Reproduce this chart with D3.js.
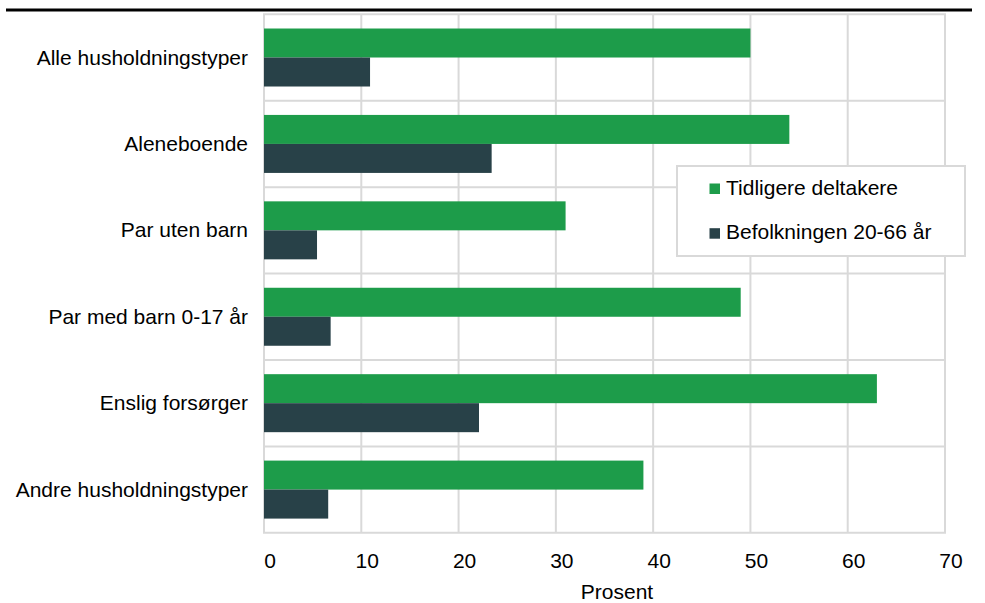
<!DOCTYPE html>
<html>
<head>
<meta charset="utf-8">
<script src="https://cdn.jsdelivr.net/npm/d3@7"></script>
<style>
  html, body { margin: 0; padding: 0; background: #fff; }
  svg { display: block; font-family: "Liberation Sans", Arial, Helvetica, sans-serif; }
</style>
</head>
<body>
<svg id="chart" width="985" height="603"></svg>
<script>
const categories = ["Alle husholdningstyper", "Aleneboende", "Par uten barn", "Par med barn 0-17 år", "Enslig forsørger", "Andre husholdningstyper"];
const seriesNames = ["Tidligere deltakere", "Befolkningen 20-66 år"];
const tidligereDeltakere = [50.0, 54.0, 31.0, 49.0, 63.0, 39.0];
const befolkningen = [10.9, 23.4, 5.45, 6.85, 22.1, 6.6];
const xTicks = [0, 10, 20, 30, 40, 50, 60, 70];
const xTitle = "Prosent";
const colors = ["#1d9c4a", "#284148"];

const values = [tidligereDeltakere, befolkningen];
const svg = d3.select("#chart");
const m = { left: 264, right: 945, top: 14.3, bottom: 532.8 };
const grid = "#d9d9d9";

const x = d3.scaleLinear().domain([0, 70]).range([m.left, m.right]);
const y = d3.scaleBand().domain(categories).range([m.top, m.bottom]).paddingInner(0).paddingOuter(0);
const ys = d3.scaleBand().domain(seriesNames).range([0, y.bandwidth()]).paddingInner(0).paddingOuter(0.49);

// title rule
svg.append("line").attr("x1", 6).attr("x2", 972).attr("y1", 10).attr("y2", 10)
  .attr("stroke", "#000").attr("stroke-width", 3);

// vertical gridlines
svg.append("g").selectAll("line").data(xTicks).join("line")
  .attr("x1", d => x(d)).attr("x2", d => x(d))
  .attr("y1", m.top).attr("y2", m.bottom)
  .attr("stroke", grid).attr("stroke-width", 2);

// horizontal gridlines at band boundaries
const bounds = categories.map(c => y(c)).concat([y(categories[categories.length - 1]) + y.step()]);
svg.append("g").selectAll("line").data(bounds).join("line")
  .attr("x1", m.left - 1).attr("x2", m.right + 1)
  .attr("y1", d => d).attr("y2", d => d)
  .attr("stroke", grid).attr("stroke-width", 2);

// bars
seriesNames.forEach((s, si) => {
  svg.append("g").selectAll("rect").data(categories).join("rect")
    .attr("x", x(0))
    .attr("y", c => y(c) + ys(s))
    .attr("width", (c, i) => x(values[si][i]) - x(0))
    .attr("height", ys.bandwidth())
    .attr("fill", colors[si]);
});

// x axis labels
const xAxis = d3.axisBottom(x).tickValues(xTicks).tickSize(0).tickPadding(0).tickFormat(d3.format("d"));
const gx = svg.append("g").attr("transform", `translate(0, ${m.bottom})`).call(xAxis);
gx.select(".domain").remove();
gx.selectAll("text").attr("font-size", 21).attr("fill", "#000")
  .attr("font-family", "Liberation Sans, Arial, sans-serif")
  .attr("dy", null).attr("y", 35.5).attr("dx", 5.5);

// y axis labels
const yAxis = d3.axisLeft(y).tickSize(0).tickPadding(16);
const gy = svg.append("g").attr("transform", `translate(${m.left}, 0)`).call(yAxis);
gy.select(".domain").remove();
gy.selectAll("text").attr("font-size", 21).attr("fill", "#000")
  .attr("font-family", "Liberation Sans, Arial, sans-serif")
  .attr("dy", "0.34em");

// x title
svg.append("text").attr("x", 617).attr("y", 599).attr("text-anchor", "middle")
  .attr("font-size", 21).attr("fill", "#000").text(xTitle);

// legend
const lg = svg.append("g");
lg.append("rect").attr("x", 677).attr("y", 166).attr("width", 288).attr("height", 90)
  .attr("fill", "#fff").attr("stroke", grid).attr("stroke-width", 2);
seriesNames.forEach((s, i) => {
  const yy = 183.5 + i * 44.7;
  lg.append("rect").attr("x", 709.5).attr("y", yy).attr("width", 10.5).attr("height", 10.5).attr("fill", colors[i]);
  lg.append("text").attr("x", 726).attr("y", yy + 11).attr("font-size", 21).attr("fill", "#000").text(s);
});
</script>
</body>
</html>
